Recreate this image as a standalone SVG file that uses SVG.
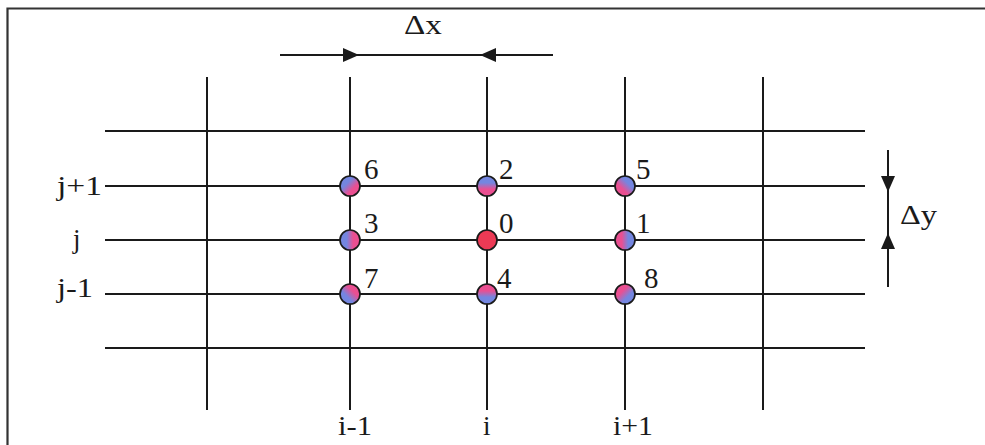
<svg xmlns="http://www.w3.org/2000/svg" width="985" height="445" viewBox="0 0 985 445">
<style>
.g{stroke:#1a1a1a;stroke-width:2;fill:none}
.t{font-family:"Liberation Serif","Times New Roman",serif;font-size:27px;fill:#1a1a1a}
.d{font-size:29px}
.n{stroke:#1a1a1a;stroke-width:1.7}
</style>
<defs>
<marker id="ah" viewBox="0 0 16 14" refX="16" refY="7" markerWidth="16" markerHeight="14" markerUnits="userSpaceOnUse" orient="auto"><path d="M0,0 L16,7 L0,14 z" fill="#1a1a1a"/></marker>
<linearGradient id="gTL" x1="0.15" y1="0.15" x2="0.85" y2="0.85"><stop offset="0.3" stop-color="#7486e0"/><stop offset="0.7" stop-color="#ea4f91"/></linearGradient>
<linearGradient id="gT" x1="0.5" y1="0.1" x2="0.5" y2="0.9"><stop offset="0.3" stop-color="#7486e0"/><stop offset="0.7" stop-color="#ea4f91"/></linearGradient>
<linearGradient id="gTR" x1="0.85" y1="0.15" x2="0.15" y2="0.85"><stop offset="0.3" stop-color="#7486e0"/><stop offset="0.7" stop-color="#ea4f91"/></linearGradient>
<linearGradient id="gL" x1="0.1" y1="0.5" x2="0.9" y2="0.5"><stop offset="0.3" stop-color="#7486e0"/><stop offset="0.7" stop-color="#ea4f91"/></linearGradient>
<linearGradient id="gR" x1="0.9" y1="0.5" x2="0.1" y2="0.5"><stop offset="0.3" stop-color="#7486e0"/><stop offset="0.7" stop-color="#ea4f91"/></linearGradient>
<linearGradient id="gBL" x1="0.15" y1="0.85" x2="0.85" y2="0.15"><stop offset="0.3" stop-color="#7486e0"/><stop offset="0.7" stop-color="#ea4f91"/></linearGradient>
<linearGradient id="gB" x1="0.5" y1="0.9" x2="0.5" y2="0.1"><stop offset="0.3" stop-color="#7486e0"/><stop offset="0.7" stop-color="#ea4f91"/></linearGradient>
<linearGradient id="gBR" x1="0.85" y1="0.85" x2="0.15" y2="0.15"><stop offset="0.3" stop-color="#7486e0"/><stop offset="0.7" stop-color="#ea4f91"/></linearGradient>
</defs>
<rect width="985" height="445" fill="#fff"/>
<path d="M7.5,445 V8.5 H985" stroke="#333" stroke-width="2.2" fill="none"/>
<g id="grid">
<line class="g" x1="105" y1="131" x2="865" y2="131"/>
<line class="g" x1="105" y1="186" x2="865" y2="186"/>
<line class="g" x1="105" y1="240" x2="865" y2="240"/>
<line class="g" x1="105" y1="294" x2="865" y2="294"/>
<line class="g" x1="105" y1="348" x2="865" y2="348"/>
<line class="g" x1="207" y1="77" x2="207" y2="410"/>
<line class="g" x1="350" y1="77" x2="350" y2="410"/>
<line class="g" x1="487" y1="77" x2="487" y2="410"/>
<line class="g" x1="625" y1="77" x2="625" y2="410"/>
<line class="g" x1="763" y1="77" x2="763" y2="410"/>
</g>
<g id="connectors">
<line class="g" x1="280" y1="55" x2="359" y2="55" marker-end="url(#ah)"/>
<line class="g" x1="359" y1="55" x2="480" y2="55"/>
<line class="g" x1="553" y1="55" x2="480" y2="55" marker-end="url(#ah)"/>
<line class="g" x1="888" y1="150" x2="888" y2="192" marker-end="url(#ah)"/>
<line class="g" x1="888" y1="192" x2="888" y2="233"/>
<line class="g" x1="888" y1="287" x2="888" y2="233" marker-end="url(#ah)"/>
</g>
<g id="labels">
<text class="t" x="404" y="34" textLength="38" lengthAdjust="spacingAndGlyphs">Δx</text>
<text class="t" x="900" y="224" textLength="37" lengthAdjust="spacingAndGlyphs">Δy</text>
<text class="t" x="57" y="195" textLength="45" lengthAdjust="spacingAndGlyphs">j+1</text>
<text class="t" x="73" y="248">j</text>
<text class="t" x="57" y="297" textLength="36" lengthAdjust="spacingAndGlyphs">j-1</text>
<text class="t" x="338" y="435" textLength="34" lengthAdjust="spacingAndGlyphs">i-1</text>
<text class="t" x="483" y="435">i</text>
<text class="t" x="613" y="435" textLength="40" lengthAdjust="spacingAndGlyphs">i+1</text>
</g>
<g id="n6"><circle class="n" cx="350" cy="186" r="10" fill="url(#gTL)"/><text class="t d" x="364" y="179">6</text></g>
<g id="n2"><circle class="n" cx="487" cy="186" r="10" fill="url(#gT)"/><text class="t d" x="499" y="179">2</text></g>
<g id="n5"><circle class="n" cx="625" cy="186" r="10" fill="url(#gTR)"/><text class="t d" x="636" y="179">5</text></g>
<g id="n3"><circle class="n" cx="350" cy="240" r="10" fill="url(#gL)"/><text class="t d" x="364" y="233">3</text></g>
<g id="n0"><circle class="n" cx="487" cy="240" r="10" fill="#ec3a55"/><text class="t d" x="499" y="233">0</text></g>
<g id="n1"><circle class="n" cx="625" cy="240" r="10" fill="url(#gR)"/><text class="t d" x="636" y="233">1</text></g>
<g id="n7"><circle class="n" cx="350" cy="294" r="10" fill="url(#gBL)"/><text class="t d" x="364" y="288">7</text></g>
<g id="n4"><circle class="n" cx="487" cy="294" r="10" fill="url(#gB)"/><text class="t d" x="497" y="288">4</text></g>
<g id="n8"><circle class="n" cx="625" cy="294" r="10" fill="url(#gBR)"/><text class="t d" x="644" y="288">8</text></g>
</svg>
